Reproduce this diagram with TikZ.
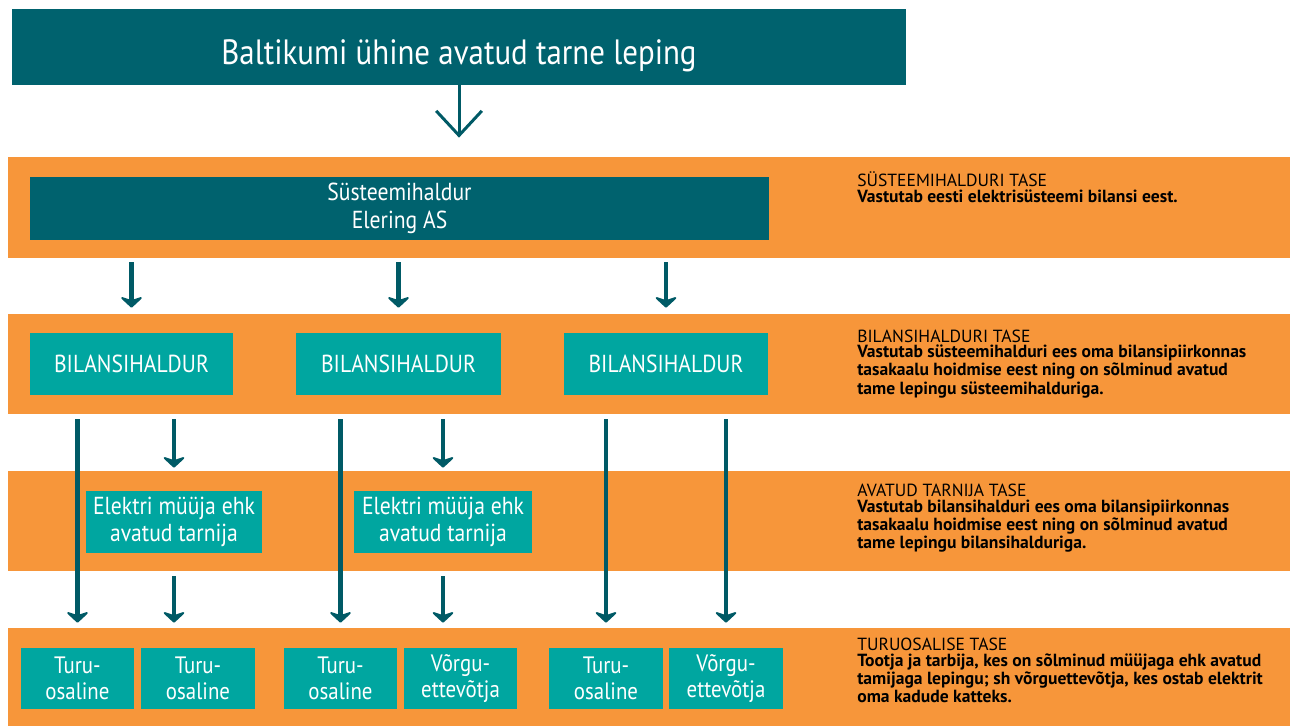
\documentclass[tikz,border=0pt]{standalone}
\usepackage{fontspec}
\setmainfont{PT Sans}[FakeStretch=0.88]
\newfontfamily\levelfont{PT Sans}
\usetikzlibrary{arrows.meta}
\definecolor{darkteal}{RGB}{0,98,110}
\definecolor{lightteal}{RGB}{0,166,160}
\definecolor{bandorange}{RGB}{247,150,58}
\definecolor{arrowteal}{RGB}{0,90,102}

\begin{document}
\begin{tikzpicture}[x=0.02cm,y=-0.02cm,
		band/.style={fill=bandorange,inner sep=0,minimum width=25.64cm,minimum height=2cm},
		darkbox/.style={fill=darkteal,text=white,inner sep=0,align=center},
		tealbox/.style={fill=lightteal,text=white,inner sep=0,align=center,minimum height=1.24cm,font=\fontsize{14}{15}\selectfont},
		smallbox/.style={tealbox,minimum width=2.28cm,minimum height=1.22cm,font=\fontsize{13.5}{15}\selectfont},
		fat/.style={draw=arrowteal,line width=2.7pt,shorten <=0.1cm,shorten >=0.1cm,-{Stealth[length=7pt,width=15pt,inset=2.5pt,round]}},
		level/.style={anchor=base west,align=left,inner sep=0,font=\levelfont\fontsize{10}{8.6}\selectfont}
	]
		\useasboundingbox (0,0) rectangle (1290,726);

		\node[darkbox,minimum width=17.88cm,minimum height=1.52cm,font=\fontsize{20}{22}\selectfont] (lep) at (459,47) {\raisebox{-10pt}[0pt][0pt]{Baltikumi ühine avatud tarne leping}};

		\node[band,minimum height=2.02cm] (b1) at (649,207.5) {};
		\node[band] (b2) at (649,364) {};
		\node[band] (b3) at (649,521) {};
		\node[band,minimum height=1.96cm] (b4) at (649,677) {};

		\node[darkbox,minimum width=14.78cm,minimum height=1.26cm,font=\fontsize{14}{16}\selectfont] (sys) at (399.5,208.5) {Süsteemihaldur\\Elering AS};

		\node[tealbox,minimum width=4.06cm] (bil1) at (131.5,364) {BILANSIHALDUR};
		\node[tealbox,minimum width=4.1cm] (bil2) at (398.5,364) {BILANSIHALDUR};
		\node[tealbox,minimum width=4.08cm] (bil3) at (666,364) {BILANSIHALDUR};

		\node[tealbox,minimum width=3.52cm] (el1) at (174,522) {Elektri müüja ehk\\avatud tarnija};
		\node[tealbox,minimum width=3.56cm] (el2) at (443,522) {Elektri müüja ehk\\avatud tarnija};

		\node[smallbox] (tu1) at (77.5,678.5) {Turu-\\osaline};
		\node[smallbox] (tu2) at (198,678.5) {Turu-\\osaline};
		\node[smallbox] (tu3) at (340.5,678.5) {Turu-\\osaline};
		\node[smallbox] (vo1) at (460.5,678.5) {Võrgu-\\ettevõtja};
		\node[smallbox] (tu4) at (606,678.5) {Turu-\\osaline};
		\node[smallbox] (vo2) at (726,678.5) {Võrgu-\\ettevõtja};

		% arrows
		\draw[draw=arrowteal,line width=1.7pt,shorten >=0.38cm,-{Straight Barb[length=14pt,width=26pt]}] (lep.south) -- (b1.north -| lep.south);
		\foreach \b in {bil1,bil2,bil3}
			\draw[fat,shorten <=0.08cm,shorten >=0.12cm] (b1.south -| \b) -- (b2.north -| \b);
		\foreach \e in {el1,el2} {
			\draw[fat,shorten >=0.06cm] (b2.south -| \e) -- (b3.north -| \e);
			\draw[fat] (b3.south -| \e) -- (b4.north -| \e);
		}
		\foreach \t in {tu1,tu3,tu4,vo2}
			\draw[fat] (b2.south -| \t) -- (b4.north -| \t);

		% levels (base = last line)
		\node[level] (lev1) at (857,202) {SÜSTEEMIHALDURI TASE\\
			\textbf{Vastutab eesti elektrisüsteemi bilansi eest.}};
		\node[level] (lev2) at (857,394) {BILANSIHALDURI TASE\\
			\textbf{Vastutab süsteemihalduri ees oma bilansipiirkonnas}\\
			\textbf{tasakaalu hoidmise eest ning on sõlminud avatud}\\
			\textbf{tame lepingu süsteemihalduriga.}};
		\node[level] (lev3) at (857,548) {AVATUD TARNIJA TASE\\
			\textbf{Vastutab bilansihalduri ees oma bilansipiirkonnas}\\
			\textbf{tasakaalu hoidmise eest ning on sõlminud avatud}\\
			\textbf{tame lepingu bilansihalduriga.}};
		\node[level] (lev4) at (857,702) {TURUOSALISE TASE\\
			\textbf{Tootja ja tarbija, kes on sõlminud müüjaga ehk avatud}\\
			\textbf{tamijaga lepingu; sh võrguettevõtja, kes ostab elektrit}\\
			\textbf{oma kadude katteks.}};
\end{tikzpicture}
\end{document}
